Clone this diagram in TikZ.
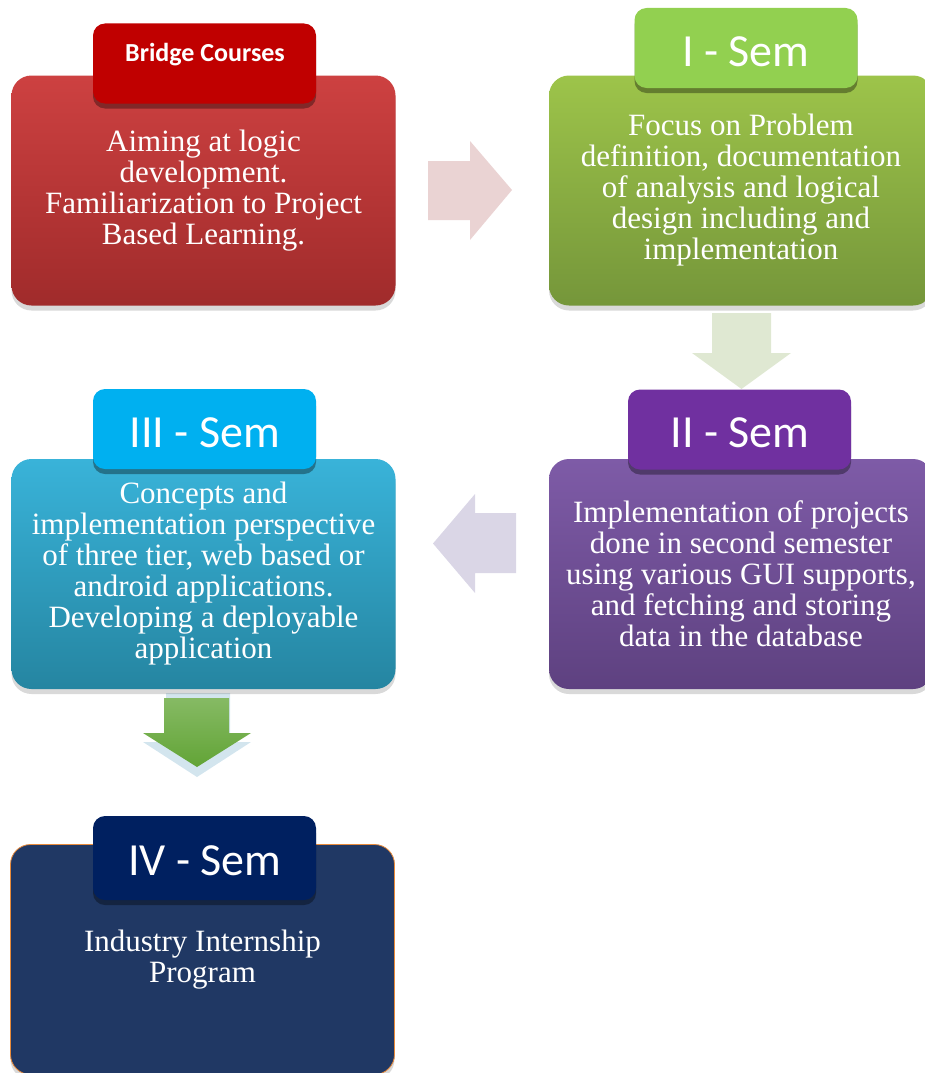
\documentclass[tikz,border=0pt]{standalone}
\usepackage{fontspec}
\setmainfont{Liberation Serif}
\newfontfamily\tabfont{Carlito}
\usetikzlibrary{positioning,shadows}

\definecolor{redTop}{HTML}{CD4141}
\definecolor{redBot}{HTML}{A02B2B}
\definecolor{redTab}{HTML}{C00000}
\definecolor{greenTop}{HTML}{9DC44A}
\definecolor{greenBot}{HTML}{75963A}
\definecolor{greenTab}{HTML}{92D050}
\definecolor{purpleTop}{HTML}{7E5BA7}
\definecolor{purpleBot}{HTML}{5E4180}
\definecolor{purpleTab}{HTML}{7030A0}
\definecolor{cyanTop}{HTML}{39B3D9}
\definecolor{cyanBot}{HTML}{2585A1}
\definecolor{cyanTab}{HTML}{00B0F0}
\definecolor{navyBox}{HTML}{203864}
\definecolor{navyTab}{HTML}{002060}
\definecolor{navyEdge}{HTML}{E88A3A}
\definecolor{arrowPink}{HTML}{EAD3D3}
\definecolor{arrowSage}{HTML}{DFE8D2}
\definecolor{arrowLilac}{HTML}{DAD6E6}
\definecolor{arrowTop}{HTML}{86BA64}
\definecolor{arrowBot}{HTML}{62A436}
\definecolor{arrowShade}{HTML}{D3E5EE}

\begin{document}
\begin{tikzpicture}[
  x=1pt, y=-1pt,
  semBox/.style={rounded corners=20pt, minimum width=384pt, minimum height=230pt,
    align=center, text=white, font=\fontsize{31}{31}\selectfont,
    drop shadow={shadow xshift=0pt, shadow yshift=-5pt, opacity=0.3}},
  semTab/.style={rounded corners=12pt, minimum width=223pt, minimum height=80pt,
    drop shadow={shadow xshift=0pt, shadow yshift=-5pt, fill=black, opacity=0.35}},
  tabText/.style={text=white, font=\tabfont\fontsize{46}{46}\selectfont},
  blockArrow/.style={draw=none}
]
\useasboundingbox (0,0) rectangle (925,1073);

% block arrows between the boxes
\fill[blockArrow, arrowPink] (428,161) -- (470,161) -- (470,141) -- (512,190)
  -- (470,240) -- (470,220) -- (428,220) -- cycle;
\fill[blockArrow, arrowSage] (712,313) -- (771,313) -- (771,353) -- (791,353)
  -- (741.5,389) -- (692,353) -- (712,353) -- cycle;
\fill[blockArrow, arrowLilac] (516,513) -- (475,513) -- (475,494) -- (433,543.5)
  -- (475,593) -- (475,573) -- (516,573) -- cycle;
\fill[blockArrow, arrowShade] (166,693) -- (230,693) -- (230,742) -- (251,742)
  -- (197,777) -- (143,742) -- (166,742) -- cycle;
\shade[blockArrow, top color=arrowTop, bottom color=arrowBot] (164,698) -- (229,698)
  -- (229,733) -- (251,733) -- (197,767) -- (143,733) -- (164,733) -- cycle;

% semester boxes
\node[semBox, top color=redTop, bottom color=redBot] (bridge) at (203.5,190.5)
  {Aiming at logic\\development.\\Familiarization to Project\\Based Learning.};
\node[semTab, fill=redTab] (bridgeTab) at (204.5,63.5) {};
\node[text=white, font=\tabfont\bfseries\fontsize{26}{26}\selectfont] (bridgeLbl)
  at (205,55) {Bridge Courses};

\node[semBox, top color=greenTop, bottom color=greenBot] (semOne) at (741,190.5)
  {Focus on Problem\\definition, documentation\\of analysis and logical\\design including and\\implementation};
\node[semTab, fill=greenTab] (semOneTab) at (746,48) {};
\node[tabText] (semOneLbl) at (746,52) {I - Sem};

\node[semBox, top color=purpleTop, bottom color=purpleBot] (semTwo) at (741,574)
  {Implementation of projects\\done in second semester\\using various GUI supports,\\and fetching and storing\\data in the database};
\node[semTab, fill=purpleTab] (semTwoTab) at (739.5,429.5) {};
\node[tabText] (semTwoLbl) at (740,433) {II - Sem};

\node[semBox, top color=cyanTop, bottom color=cyanBot] (semThree) at (203.5,574)
  {Concepts and\\implementation perspective\\of three tier, web based or\\android applications.\\Developing a deployable\\application};
\node[semTab, fill=cyanTab] (semThreeTab) at (204.5,429) {};
\node[tabText] (semThreeLbl) at (205,432.5) {III - Sem};

\node[semBox, fill=navyBox, draw=navyEdge, line width=0.8pt] (semFour) at (202.5,959.5)
  {Industry Internship\\Program};
\node[semTab, fill=navyTab, minimum height=84pt] (semFourTab) at (204.5,858) {};
\node[tabText] (semFourLbl) at (205,861) {IV - Sem};
\end{tikzpicture}
\end{document}
